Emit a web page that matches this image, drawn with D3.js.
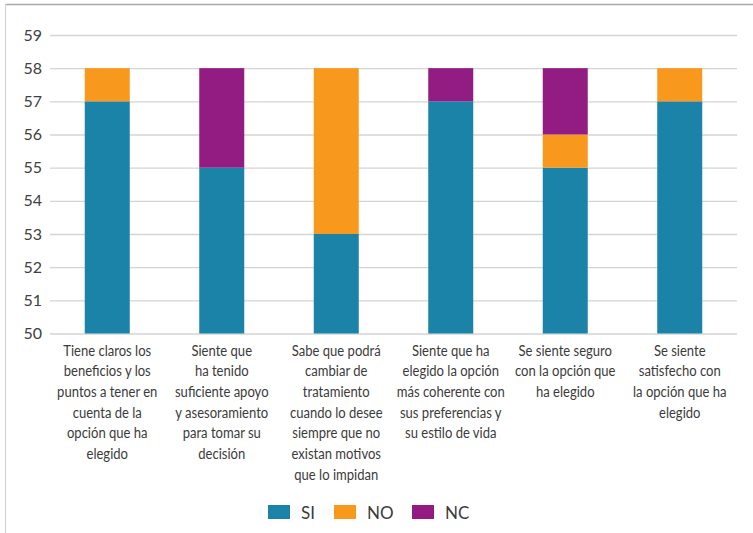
<!DOCTYPE html>
<meta charset="utf-8">

<script src="https://d3js.org/d3.v7.min.js"></script>

<style type="text/css">

body { margin: 0; background: #fff; }
text { font-family: Lato, "Open Sans", sans-serif; fill: #3b3b3b; }
.y.axis .domain { display: none; }
.y.axis line { stroke: #d4d4d4; stroke-width: 1.3; }

</style>

<body>
</body>

<script>

// chart values
var categories = ["c1", "c2", "c3", "c4", "c5", "c6"];

var labelLines = [
  ["Tiene claros los", "beneficios y los", "puntos a tener en", "cuenta de la", "opción que ha", "elegido"],
  ["Siente que", "ha tenido", "suficiente apoyo", "y asesoramiento", "para tomar su", "decisión"],
  ["Sabe que podrá", "cambiar de", "tratamiento", "cuando lo desee", "siempre que no", "existan motivos", "que lo impidan"],
  ["Siente que ha", "elegido la opción", "más coherente con", "sus preferencias y", "su estilo de vida"],
  ["Se siente seguro", "con la opción que", "ha elegido"],
  ["Se siente", "satisfecho con", "la opción que ha", "elegido"]
];

var seriesNames = ["SI", "NO", "NC"];
var siValues = [57, 55, 53, 57, 55, 57];
var noValues = [1, 0, 5, 0, 1, 1];
var ncValues = [0, 3, 0, 1, 2, 0];

var yTicks = [50, 51, 52, 53, 54, 55, 56, 57, 58, 59];

var colors = ["#1b83a7", "#f8981d", "#931c83"];

// margins and svg
var margin = {top: 35, right: 16, bottom: 199.5, left: 50};

var width = 753 - margin.left - margin.right;
var height = 533 - margin.top - margin.bottom;

var root = d3.select("body").append("svg")
  .attr("width", 753)
  .attr("height", 533);

// frame lines
root.append("line")
  .attr("x1", 5.5).attr("x2", 753).attr("y1", 4.5).attr("y2", 4.5)
  .style("stroke", "#a9a9ab").style("stroke-width", 1.3);
root.append("line")
  .attr("x1", 5.5).attr("x2", 5.5).attr("y1", 4.5).attr("y2", 533)
  .style("stroke", "#d6d6d6").style("stroke-width", 1.3);

var svg = root.append("g")
  .attr("transform", "translate(" + margin.left + "," + margin.top + ")");

// scales
var xScale = d3.scaleBand()
  .domain(categories)
  .range([0, width])
  .paddingInner(0.607)
  .paddingOuter(0.3035);

var yScale = d3.scaleLinear()
  .domain([50, 59])
  .range([height, 0])
  .clamp(true);

var yAxis = d3.axisLeft(yScale)
  .tickValues(yTicks)
  .tickSize(-width)
  .tickPadding(8);

var yAxisGroup = svg.append("g")
  .attr("class", "y axis")
  .call(yAxis);

yAxisGroup.selectAll("text")
  .style("font-size", "16px")
  .style("fill", "#404040");

// stacked data
var rows = categories.map(function(c, i) {
  return {cat: c, SI: siValues[i], NO: noValues[i], NC: ncValues[i]};
});

var stacked = d3.stack().keys(seriesNames)(rows);

svg.selectAll(".serie")
  .data(stacked)
  .enter().append("g")
  .attr("class", "serie")
  .style("fill", function(d, i) { return colors[i]; })
  .selectAll("rect")
  .data(function(d) { return d; })
  .enter().append("rect")
  .attr("x", function(d) { return xScale(d.data.cat); })
  .attr("y", function(d) { return yScale(d[1]); })
  .attr("width", xScale.bandwidth())
  .attr("height", function(d) { return yScale(d[0]) - yScale(d[1]); });

// category labels (the source font is narrower, so squeeze horizontally)
var labels = svg.selectAll(".cat-label")
  .data(categories)
  .enter().append("text")
  .attr("class", "cat-label")
  .attr("text-anchor", "middle")
  .style("font-size", "15px")
  .attr("transform", function(d) {
    return "translate(" + (xScale(d) + xScale.bandwidth() / 2) + "," + (height + 22) + ") scale(0.87,1)";
  });

labels.selectAll("tspan")
  .data(function(d, i) { return labelLines[i]; })
  .enter().append("tspan")
  .attr("x", 0)
  .attr("y", function(d, i) { return i * 20.7; })
  .text(function(d) { return d; });

// legend
var legendX = [268, 334, 412];
var legend = root.selectAll(".legend")
  .data(seriesNames)
  .enter().append("g")
  .attr("class", "legend")
  .attr("transform", function(d, i) { return "translate(" + legendX[i] + ",505)"; });

legend.append("rect")
  .attr("width", 22)
  .attr("height", 14)
  .style("fill", function(d, i) { return colors[i]; });

legend.append("text")
  .attr("x", 33)
  .attr("y", 14)
  .style("font-size", "17px")
  .text(function(d) { return d; });

</script>
